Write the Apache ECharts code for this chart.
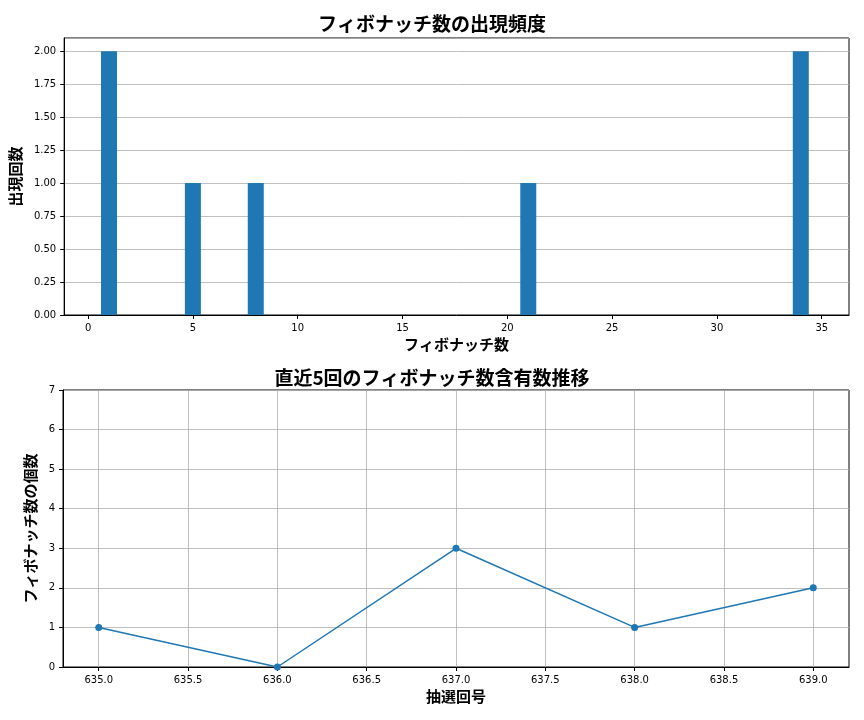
<!DOCTYPE html>
<html><head><meta charset="utf-8">
<script src="https://cdn.jsdelivr.net/npm/echarts@6/dist/echarts.min.js"></script>
<style>body{margin:0}#c{width:864px;height:720px}</style></head>
<body><div id="c"></div>
<script>
var fibNumbers = [1, 5, 8, 21, 34];
var fibCounts = [2, 1, 1, 1, 2];
var drawNos = [635, 636, 637, 638, 639];
var fibPerDraw = [1, 0, 3, 1, 2];
var histTicks = [0, 5, 10, 15, 20, 25, 30, 35];
var drawTicks = [635, 635.5, 636, 636.5, 637, 637.5, 638, 638.5, 639];

var font = '"Noto Sans CJK JP", sans-serif';
var nameStyle = {fontSize: 15, fontWeight: 'bold', fontFamily: font, color: '#000'};
var lab = {fontSize: 10, color: '#000', fontFamily: 'DejaVu Sans'};
var axLine = {show: true, onZero: false, lineStyle: {color: '#000'}};
var tick = {show: true, length: 4, lineStyle: {color: '#000'}};
var grid = {show: true, lineStyle: {color: '#b0b0b0', width: 0.8}};

var chart = echarts.init(document.getElementById('c'));
chart.setOption({
    animation: false,
    title: [
        {text: 'フィボナッチ数の出現頻度', left: 'center', top: 9, textStyle: {fontSize: 19, fontWeight: 'bold', fontFamily: font, color: '#000'}},
        {text: '直近5回のフィボナッチ数含有数推移', left: 'center', top: 363, textStyle: {fontSize: 19, fontWeight: 'bold', fontFamily: font, color: '#000'}}
    ],
    grid: [
        {left: 63, right: 15, top: 38, height: 277, show: true, borderColor: '#000', borderWidth: 1},
        {left: 63, right: 15, top: 390, height: 277, show: true, borderColor: '#000', borderWidth: 1}
    ],
    xAxis: [
        {type: 'value', gridIndex: 0, min: -1.14, max: 36.3,
         name: 'フィボナッチ数', nameLocation: 'middle', nameGap: 22, nameTextStyle: nameStyle,
         axisLine: axLine, splitLine: {show: false},
         axisLabel: {fontSize: 10, color: '#000', fontFamily: 'DejaVu Sans', customValues: histTicks},
         axisTick: {show: true, length: 4, lineStyle: {color: '#000'}, customValues: histTicks}},
        {type: 'value', gridIndex: 1, min: 634.8, max: 639.2,
         name: '抽選回号', nameLocation: 'middle', nameGap: 22, nameTextStyle: nameStyle,
         axisLine: axLine, splitLine: grid,
         axisLabel: {fontSize: 10, color: '#000', fontFamily: 'DejaVu Sans', formatter: function (v) { return v.toFixed(1); },
                     customValues: drawTicks},
         axisTick: {show: true, length: 4, lineStyle: {color: '#000'}, customValues: drawTicks}}
    ],
    yAxis: [
        {type: 'value', gridIndex: 0, min: 0, max: 2.1, interval: 0.25,
         name: '出現回数', nameLocation: 'middle', nameGap: 38, nameTextStyle: nameStyle,
         axisLine: axLine, axisTick: tick, splitLine: grid,
         axisLabel: {fontSize: 10, color: '#000', fontFamily: 'DejaVu Sans', showMaxLabel: false, formatter: function (v) { return v.toFixed(2); }}},
        {type: 'value', gridIndex: 1, min: 0, max: 7, interval: 1,
         name: 'フィボナッチ数の個数', nameLocation: 'middle', nameGap: 24, nameTextStyle: nameStyle,
         axisLine: axLine, axisTick: tick, splitLine: grid, axisLabel: lab}
    ],
    series: [
        {type: 'bar', xAxisIndex: 0, yAxisIndex: 0, barWidth: 16, itemStyle: {color: '#1f77b4'},
         data: fibNumbers.map(function (n, i) { return [n, fibCounts[i]]; })},
        {type: 'line', xAxisIndex: 1, yAxisIndex: 1, symbol: 'circle', symbolSize: 7,
         lineStyle: {color: '#1f77b4', width: 1.5}, itemStyle: {color: '#1f77b4'},
         data: drawNos.map(function (d, i) { return [d, fibPerDraw[i]]; })}
    ]
});
</script></body></html>
